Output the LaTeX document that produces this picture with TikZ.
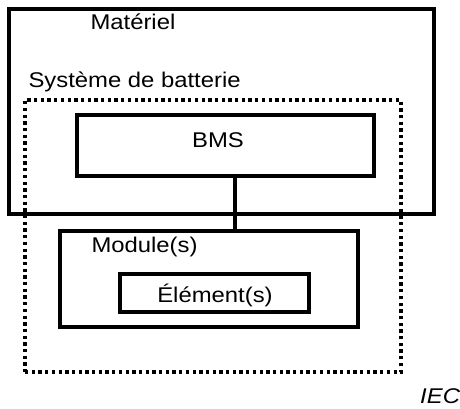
\documentclass[tikz,border=0pt]{standalone}
\usepackage{fontspec}
\setmainfont{Liberation Sans}[FakeStretch=1.12]
\begin{document}
\begin{tikzpicture}[x=1pt,y=-1pt,
  box/.style={draw=black,line width=3.3pt,rectangle,inner sep=0pt,outer sep=0pt,anchor=north west},
  dotbox/.style={draw=black,line width=3.3pt,dash pattern=on 3.3pt off 3.4pt,rectangle,inner sep=0pt,outer sep=0pt,anchor=north west},
  lbl/.style={inner sep=0pt,outer sep=0pt,font=\fontsize{21.3}{25}\selectfont},
  link/.style={draw=black,line width=3.3pt}]
\useasboundingbox (0,0) rectangle (460,408);
% equipment enclosure
\node[box,minimum width=425pt,minimum height=205pt] (mat) at (9,9) {};
% battery system boundary
\node[dotbox,minimum width=376pt,minimum height=272pt] (sys) at (25,100) {};
% management system
\node[box,minimum width=297pt,minimum height=61pt] (bms) at (77,115) {};
% module and cells
\node[box,minimum width=298pt,minimum height=96pt] (mod) at (60,231) {};
\node[box,minimum width=189pt,minimum height=38pt] (cell) at (120,274) {};
% labels
\node[lbl,anchor=base west] (tmat) at (90.5,29.5) {Matériel};
\node[lbl,anchor=base west] (tsys) at (28.5,87) {Système de batterie};
\node[lbl,anchor=base] (tbms) at (218,147) {BMS};
\node[lbl,anchor=base west] (tmod) at (91.5,252) {Module(s)};
\node[lbl,anchor=base] (tcell) at (215,302) {Élément(s)};
\node[lbl,anchor=base east,font=\fontsize{21.3}{25}\selectfont\itshape] (iec) at (460,403) {IEC};
% BMS to module link
\coordinate (lx) at (235,0);
\draw[link] (bms.south -| lx) -- (mod.north -| lx);
\end{tikzpicture}
\end{document}
